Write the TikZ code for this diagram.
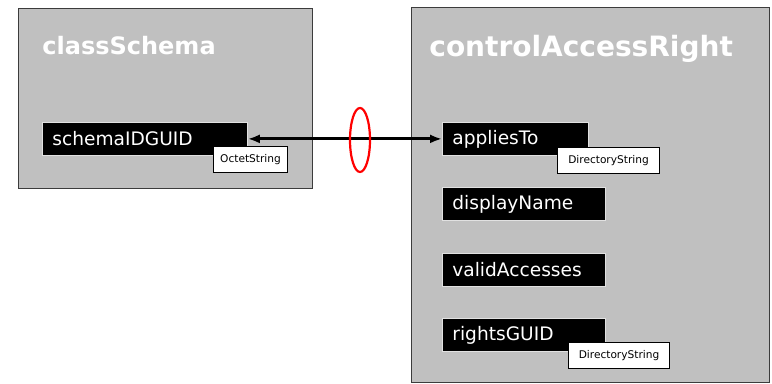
\documentclass[tikz,border=0pt]{standalone}
\usepackage{fontspec}
\setmainfont{DejaVu Sans}
\usepackage{tikz}
\usetikzlibrary{shapes.geometric, arrows.meta, positioning}
\definecolor{panelgray}{RGB}{192,192,192}
\definecolor{paneledge}{RGB}{60,60,60}
\definecolor{attredge}{RGB}{225,225,225}
\definecolor{ringred}{RGB}{255,0,0}
\tikzset{
  panel/.style={rectangle, draw=paneledge, fill=panelgray,
    anchor=north west, line width=0.6pt, inner sep=0pt},
  title/.style={anchor=base west, inner sep=0pt, text=white,
    font=\bfseries},
  attr/.style={rectangle, draw=attredge, fill=black, text=white,
    anchor=north west, align=left, inner xsep=5pt, minimum height=16.5pt,
    font=\fontsize{9.3}{11}\selectfont, line width=0.4pt},
  typebox/.style={rectangle, draw=black, fill=white,
    anchor=north west, inner sep=0pt, minimum height=13pt,
    font=\fontsize{5.3}{6}\selectfont, line width=0.5pt},
  ring/.style={ellipse, draw=ringred, line width=1.1pt,
    minimum width=10pt, minimum height=32pt, inner sep=0pt},
  link/.style={{Latex[length=6pt,width=4.5pt]}-{Latex[length=6pt,width=4.5pt]},
    line width=1.4pt, color=black}
}

\begin{document}
\begin{tikzpicture}[x=0.5pt, y=-0.5pt]
  \useasboundingbox[fill=white] (0,0) rectangle (772,384);

  % classSchema panel
  \node[panel, minimum width=147pt, minimum height=90pt] (csbox) at (18,8) {};
  \node[title, font=\bfseries\fontsize{12}{14}\selectfont] (cstitle) at (42,55) {classSchema};
  \node[attr, text width=92.5pt] (sid) at (42,122) {schemaIDGUID};
  \node[typebox, minimum width=37pt] (sidtype) at (213,146) {OctetString};

  % controlAccessRight panel
  \node[panel, minimum width=179pt, minimum height=187.5pt] (carbox) at (411,7) {};
  \node[title, font=\bfseries\fontsize{14}{16}\selectfont] (cartitle) at (429,57) {controlAccessRight};
  \node[attr, text width=63pt] (apt) at (442,122) {appliesTo};
  \node[typebox, minimum width=51pt] (apttype) at (557,147) {DirectoryString};
  \node[attr, text width=71.5pt] (dsp) at (442,187) {displayName};
  \node[attr, text width=71.5pt] (vac) at (442,253) {validAccesses};
  \node[attr, text width=71.5pt] (rgd) at (442,318) {rightsGUID};
  \node[typebox, minimum width=50.5pt] (rgdtype) at (568,342) {DirectoryString};

  % link between the two GUIDs
  \draw[link] (sid.east) -- (apt.west);
  \node[ring] (mark) at (360,140) {};
\end{tikzpicture}
\end{document}
